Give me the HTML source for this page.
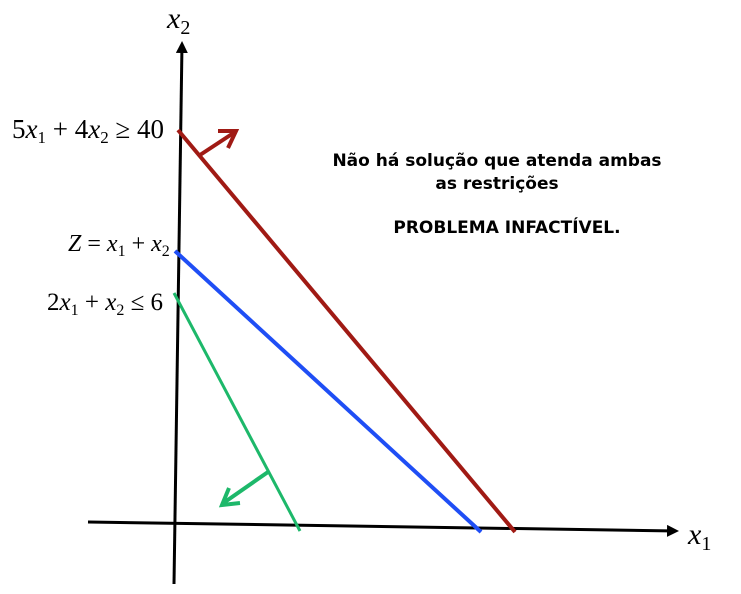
<!DOCTYPE html>
<html><head><meta charset="utf-8"><style>
body{margin:0;background:#fff;}
svg{display:block;}
.m{font-family:"Liberation Serif",serif;fill:#000;}
.i{font-style:italic;}
.t{font-family:"DejaVu Sans","Liberation Sans",sans-serif;font-weight:bold;font-size:17px;fill:#000;}
</style></head><body>
<svg width="741" height="594" viewBox="0 0 741 594">
<defs>
<marker id="ak" markerWidth="12" markerHeight="12" refX="9" refY="6" orient="auto" markerUnits="userSpaceOnUse"><path d="M0,0 L12,6 L0,12 Z" fill="#000"/></marker>
</defs>
<line x1="174" y1="584" x2="182" y2="44" stroke="#000" stroke-width="3" marker-end="url(#ak)"/>
<line x1="88" y1="522" x2="676" y2="531" stroke="#000" stroke-width="3" marker-end="url(#ak)"/>
<text class="m i" x="167" y="28" style="font-size:30px">x<tspan style="font-size:20px;font-style:normal" dy="6">2</tspan></text>
<text class="m i" x="688" y="544" style="font-size:30px">x<tspan style="font-size:20px;font-style:normal" dy="6">1</tspan></text>
<line x1="178" y1="130" x2="515" y2="532" stroke="#a01a14" stroke-width="4"/>
<polyline points="200,155 235,132" fill="none" stroke="#a01a14" stroke-width="4"/>
<polyline points="218,131 236,131 228,148" fill="none" stroke="#a01a14" stroke-width="4"/>
<line x1="175" y1="251" x2="481" y2="532" stroke="#1f4ef5" stroke-width="4"/>
<line x1="174" y1="293" x2="300" y2="531" stroke="#1db86a" stroke-width="3"/>
<polyline points="268,472 222,504" fill="none" stroke="#1db86a" stroke-width="4"/>
<polyline points="229,488 222,505 240,503" fill="none" stroke="#1db86a" stroke-width="4"/>
<text class="m" x="12" y="138" style="font-size:27px">5<tspan class="i">x</tspan><tspan style="font-size:17px" dy="5">1</tspan><tspan dy="-5"> + 4</tspan><tspan class="i">x</tspan><tspan style="font-size:17px" dy="5">2</tspan><tspan dy="-5"> ≥ 40</tspan></text>
<text class="m" x="68" y="251" style="font-size:24px"><tspan class="i">Z</tspan> = <tspan class="i">x</tspan><tspan style="font-size:16px" dy="5">1</tspan><tspan dy="-5"> + </tspan><tspan class="i">x</tspan><tspan style="font-size:16px" dy="5">2</tspan></text>
<text class="m" x="47" y="310" style="font-size:25px">2<tspan class="i">x</tspan><tspan style="font-size:16px" dy="5">1</tspan><tspan dy="-5"> + </tspan><tspan class="i">x</tspan><tspan style="font-size:16px" dy="5">2</tspan><tspan dy="-5"> ≤ 6</tspan></text>
<text class="t" x="497" y="166" text-anchor="middle">Não há solução que atenda ambas</text>
<text class="t" x="497" y="189" text-anchor="middle">as restrições</text>
<text class="t" x="507" y="233" text-anchor="middle">PROBLEMA INFACTÍVEL.</text>
</svg>
</body></html>
